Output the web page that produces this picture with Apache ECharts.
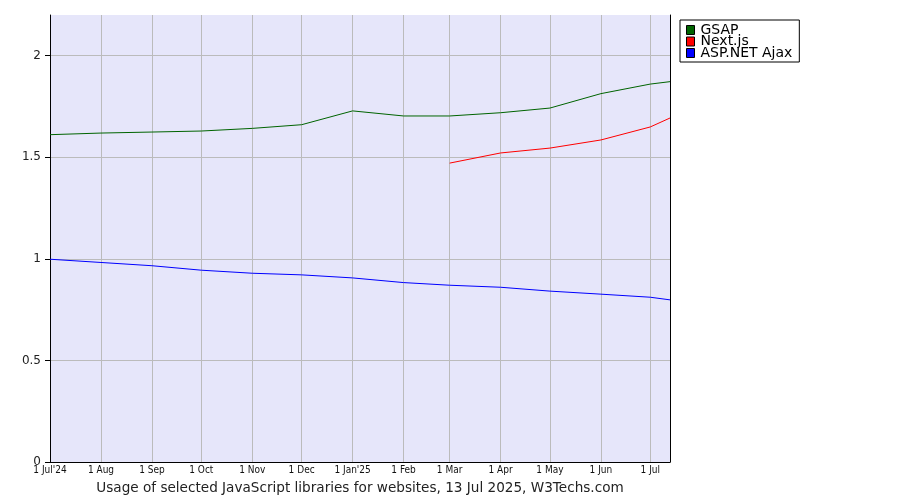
<!DOCTYPE html>
<html>
<head>
<meta charset="utf-8">
<script src="https://cdn.jsdelivr.net/npm/echarts@6/dist/echarts.min.js"></script>
<style>html,body{margin:0;padding:0;background:#fff}#c{width:900px;height:500px}</style>
</head>
<body>
<div id="c"></div>
<script>
const dates = ['2024-07-01','2024-08-01','2024-09-01','2024-10-01','2024-11-01','2024-12-01','2025-01-01','2025-02-01','2025-03-01','2025-04-01','2025-05-01','2025-06-01','2025-07-01','2025-07-13'];
const gsap = [1.611,1.619,1.624,1.629,1.642,1.660,1.728,1.703,1.703,1.719,1.742,1.813,1.860,1.872];
const nextjs = [null,null,null,null,null,null,null,null,1.471,1.521,1.545,1.585,1.649,1.693];
const aspnet = [0.998,0.982,0.966,0.944,0.929,0.921,0.906,0.883,0.870,0.860,0.841,0.826,0.811,0.798];
const tickDates = ['2024-07-01','2024-08-01','2024-09-01','2024-10-01','2024-11-01','2024-12-01','2025-01-01','2025-02-01','2025-03-01','2025-04-01','2025-05-01','2025-06-01','2025-07-01'];
const tickLabels = ["1 Jul'24",'1 Aug','1 Sep','1 Oct','1 Nov','1 Dec',"1 Jan'25",'1 Feb','1 Mar','1 Apr','1 May','1 Jun','1 Jul'];
const yTicks = [0,0.5,1,1.5,2];
const yLabels = ['0','0.5','1','1.5','2'];
const seriesNames = ['GSAP','Next.js','ASP.NET Ajax'];
const seriesColors = ['#006400','#ff0000','#0000ff'];
const titleText = 'Usage of selected JavaScript libraries for websites, 13 Jul 2025, W3Techs.com';

// convert a date string into days since the first date (UTC, so no DST drift)
const dayOf = s => { const p = s.split('-').map(Number); return Date.UTC(p[0],p[1]-1,p[2]); };
const t0 = dayOf(dates[0]);
const dx = s => Math.round((dayOf(s)-t0)/86400000);
const tickX = tickDates.map(dx);
const labelMap = {};
tickX.forEach((t,i)=>{labelMap[t]=tickLabels[i];});
const yMap = {};
yTicks.forEach((v,i)=>{yMap[v]=yLabels[i];});
const mk = arr => dates.map((d,i)=> arr[i]==null ? null : [dx(d), arr[i]]).filter(p=>p);
const allData = [gsap, nextjs, aspnet];

const chart = echarts.init(document.getElementById('c'));
chart.setOption({
  animation:false,
  backgroundColor:'#ffffff',
  grid:{left:50,right:230,top:15,bottom:38,show:true,backgroundColor:'#e6e6fa',borderWidth:0},
  legend:{
    orient:'vertical', left:680, top:20,
    data:seriesNames.map((n,i)=>({name:n,icon:'rect',itemStyle:{color:seriesColors[i],borderColor:'#000',borderWidth:1}})),
    itemWidth:8,itemHeight:9,itemGap:-2.5,
    padding:[3,7,2,6],
    backgroundColor:'#fff',borderColor:'#000',borderWidth:1,borderRadius:0,
    textStyle:{fontFamily:'DejaVu Sans',fontSize:14,color:'#000',padding:[0,0,0,1]},
    selectedMode:false
  },
  xAxis:{
    type:'value',
    min:0, max:dx(dates[dates.length-1]),
    axisLine:{show:true,onZero:false,lineStyle:{color:'#000',width:1}},
    axisTick:{show:false,customValues:tickX},
    axisLabel:{customValues:tickX,formatter:v=>labelMap[v]||'',fontFamily:'DejaVu Sans Condensed, DejaVu Sans',fontSize:10,color:'#111',margin:3,hideOverlap:false,showMaxLabel:true,showMinLabel:true},
    splitLine:{show:true,lineStyle:{color:'#bbbbbb',width:1}}
  },
  yAxis:[{
    type:'value',min:0,max:2.2,
    axisLine:{show:true,lineStyle:{color:'#000',width:1}},
    axisTick:{show:true,length:5,customValues:yTicks,lineStyle:{color:'#000'}},
    axisLabel:{customValues:yTicks,formatter:v=>yMap[v]!==undefined?yMap[v]:'',fontFamily:'DejaVu Sans',fontSize:12,color:'#222',margin:9},
    splitLine:{show:true,lineStyle:{color:'#bbbbbb',width:1}}
  },{
    type:'value',min:0,max:2.2,position:'right',
    axisLine:{show:true,lineStyle:{color:'#000',width:1}},
    axisTick:{show:false},axisLabel:{show:false},splitLine:{show:false}
  }],
  graphic:[{type:'text',style:{text:titleText,x:360,y:488,align:'center',verticalAlign:'middle',fontFamily:'DejaVu Sans',fontSize:13.6,fill:'#222'}}],
  series:seriesNames.map((n,i)=>({
    name:n,type:'line',data:mk(allData[i]),showSymbol:false,symbol:'none',
    lineStyle:{color:seriesColors[i],width:1},itemStyle:{color:seriesColors[i]},z:3
  }))
});
</script>
</body>
</html>
